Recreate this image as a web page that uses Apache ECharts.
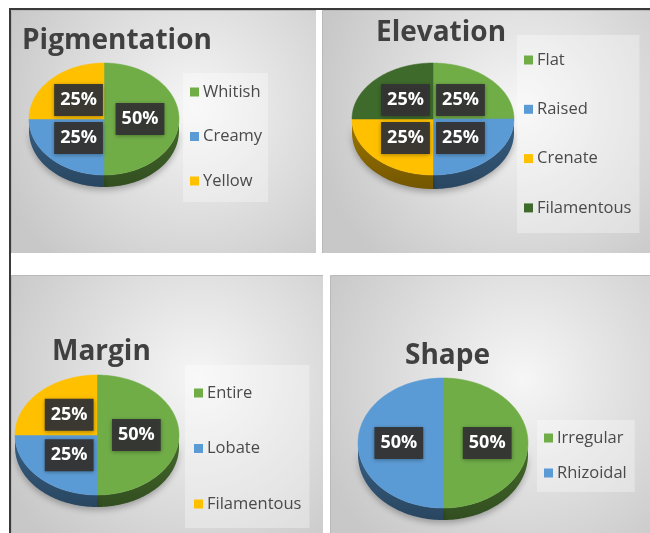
<!DOCTYPE html>
<html>
<head>
<meta charset="utf-8">
<script src="https://cdn.jsdelivr.net/npm/echarts/dist/echarts.min.js"></script>
<style>
  html, body { margin: 0; padding: 0; background: #ffffff; }
  body { width: 650px; height: 533px; position: relative; overflow: hidden; }
  #frame { position: absolute; left: 9px; top: 8px; width: 700px; height: 600px;
           border-top: 2px solid #3a3a3a; border-left: 2px solid #3a3a3a; box-sizing: border-box; }
  .panel { position: absolute; }
</style>
</head>
<body>
<div id="frame"></div>
<div class="panel" id="pigmentation" style="left:11px;top:10px;width:305px;height:243px"></div>
<div class="panel" id="elevation" style="left:322px;top:10px;width:328px;height:243px"></div>
<div class="panel" id="margin" style="left:11px;top:275px;width:312px;height:258px"></div>
<div class="panel" id="shape" style="left:330px;top:275px;width:320px;height:258px"></div>
<script>
// Colony characteristics: share of isolates per category
const pigmentationCategories = ['Whitish', 'Creamy', 'Yellow'];
const pigmentationValues = [50, 25, 25];

const elevationCategories = ['Flat', 'Raised', 'Crenate', 'Filamentous'];
const elevationValues = [25, 25, 25, 25];

const marginCategories = ['Entire', 'Lobate', 'Filamentous'];
const marginValues = [50, 25, 25];

const shapeCategories = ['Irregular', 'Rhizoidal'];
const shapeValues = [50, 50];

// Slice colours
const GREEN = '#70AD47', BLUE = '#5B9BD5', YELLOW = '#FFC000', DARK_GREEN = '#3E6B2C';

const FONT = '"Open Sans", "DejaVu Sans", sans-serif';

function shade(hex, k) {
  const n = parseInt(hex.slice(1), 16);
  const r = Math.round(((n >> 16) & 255) * k);
  const g = Math.round(((n >> 8) & 255) * k);
  const b = Math.round((n & 255) * k);
  return 'rgb(' + r + ',' + g + ',' + b + ')';
}

// Builds a tilted (3D-looking) pie from one category list and its values
function buildOption(cfg) {
  const total = cfg.values.reduce((s, v) => s + v, 0);
  const starts = [];
  cfg.values.reduce((acc, v, i) => { starts[i] = acc; return acc + v; }, 0);
  const p = cfg.pie;

  const series = cfg.categories.map((name, i) => ({
    type: 'custom',
    name: name,
    coordinateSystem: 'none',
    silent: true,
    itemStyle: { color: cfg.colors[i] },
    data: [[cfg.values[i], starts[i], total]],
    renderItem: function (params, api) {
      const v = api.value(0), s = api.value(1), t = api.value(2);
      const a0 = s / t * Math.PI * 2, a1 = (s + v) / t * Math.PI * 2;
      const pt = (a, dy) => [p.cx + p.rx * Math.sin(a), p.cy - p.ry * Math.cos(a) + (dy || 0)];
      const arc = (from, to, dy) => {
        const n = Math.max(6, Math.ceil(Math.abs(to - from) / (Math.PI / 120)));
        const out = [];
        for (let k = 0; k <= n; k++) out.push(pt(from + (to - from) * k / n, dy));
        return out;
      };
      const color = cfg.colors[i];
      const children = [];

      // front wall (only the lower half of the rim is visible)
      const b0 = Math.max(a0, Math.PI / 2), b1 = Math.min(a1, Math.PI * 1.5);
      if (b1 > b0) {
        const wall = arc(b0, b1, 0).concat(arc(b1, b0, p.depth));
        children.push({
          type: 'polygon', z2: 1,
          shape: { points: wall },
          style: {
            fill: new echarts.graphic.LinearGradient(0, 0, 0, 1, [
              { offset: 0, color: shade(color, 0.62) },
              { offset: 1, color: shade(color, 0.45) }
            ]),
            shadowBlur: 6, shadowColor: 'rgba(0,0,0,0.28)', shadowOffsetY: 3
          }
        });
      }

      // top face
      children.push({
        type: 'polygon', z2: 2,
        shape: { points: [[p.cx, p.cy]].concat(arc(a0, a1, 0)) },
        style: { fill: color, stroke: color, lineWidth: 0.5 }
      });

      // value label
      const m = (a0 + a1) / 2;
      children.push({
        type: 'text', z2: 10,
        style: {
          text: Math.round(v / t * 100) + '%',
          x: p.cx + p.labelR * p.rx * Math.sin(m),
          y: p.cy - p.labelR * p.ry * Math.cos(m),
          align: 'center', verticalAlign: 'middle',
          fill: '#ffffff',
          fontFamily: FONT, fontWeight: 'bold', fontSize: 18, lineHeight: 20,
          backgroundColor: 'rgba(52,52,52,0.95)',
          padding: [6, 6, 6, 6],
          shadowBlur: 4, shadowColor: 'rgba(0,0,0,0.35)', shadowOffsetY: 1
        }
      });
      return { type: 'group', children: children };
    }
  }));

  return {
    animation: false,
    graphic: [{
      type: 'rect', left: 0, top: 0, z: 0, silent: true,
      shape: { width: cfg.width, height: cfg.height },
      style: {
        fill: new echarts.graphic.RadialGradient(0.6, 0.4, 0.85, [
          { offset: 0, color: '#f6f6f6' },
          { offset: 1, color: '#c8c8c8' }
        ]),
        stroke: '#b9b9b9', lineWidth: 1
      }
    }],
    title: {
      text: cfg.title, left: cfg.titlePos[0], top: cfg.titlePos[1], padding: 0,
      textStyle: { fontFamily: FONT, fontWeight: 'bold', fontSize: 28, lineHeight: 32, color: '#404040' }
    },
    legend: {
      orient: 'vertical',
      left: cfg.legend.left, top: cfg.legend.top,
      data: cfg.categories,
      icon: 'rect', itemWidth: 9, itemHeight: 9,
      itemGap: cfg.legend.gap,
      padding: cfg.legend.padding,
      backgroundColor: 'rgba(255,255,255,0.32)',
      selectedMode: false,
      textStyle: { fontFamily: FONT, fontSize: 16.5, lineHeight: 20, color: '#4a4a4a', padding: [0, 0, 0, -1] }
    },
    series: series
  };
}

const panels = [
  {
    id: 'pigmentation', width: 305, height: 243, title: 'Pigmentation', titlePos: [11, 15],
    categories: pigmentationCategories, values: pigmentationValues, colors: [GREEN, BLUE, YELLOW],
    pie: { cx: 93, cy: 109, rx: 75, ry: 56, depth: 12, labelR: 0.48 },
    legend: { left: 172, top: 63, gap: 24.5, padding: [9, 6, 11, 7] }
  },
  {
    id: 'elevation', width: 328, height: 243, title: 'Elevation', titlePos: [54, 7],
    categories: elevationCategories, values: elevationValues, colors: [GREEN, BLUE, YELLOW, DARK_GREEN],
    pie: { cx: 111, cy: 109, rx: 81, ry: 56, depth: 14, labelR: 0.48 },
    legend: { left: 195, top: 25, gap: 29.3, padding: [15, 8, 15, 7] }
  },
  {
    id: 'margin', width: 312, height: 258, title: 'Margin', titlePos: [41, 61],
    categories: marginCategories, values: marginValues, colors: [GREEN, BLUE, YELLOW],
    pie: { cx: 86, cy: 160, rx: 82, ry: 60, depth: 12, labelR: 0.48 },
    legend: { left: 174, top: 90, gap: 35.5, padding: [18, 8, 14, 9] }
  },
  {
    id: 'shape', width: 320, height: 258, title: 'Shape', titlePos: [75, 65],
    categories: shapeCategories, values: shapeValues, colors: [GREEN, BLUE],
    pie: { cx: 113, cy: 168, rx: 85, ry: 65, depth: 12, labelR: 0.52 },
    legend: { left: 207, top: 145, gap: 15, padding: [8, 8, 9, 7] }
  }
];

panels.forEach(cfg => {
  const chart = echarts.init(document.getElementById(cfg.id), null, { renderer: 'canvas' });
  chart.setOption(buildOption(cfg));
});
</script>
</body>
</html>
